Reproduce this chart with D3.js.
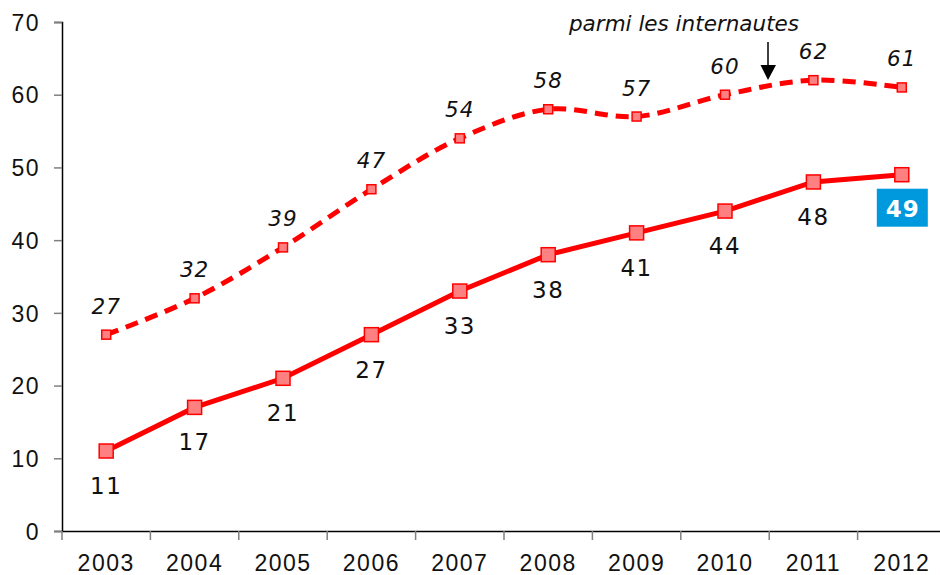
<!DOCTYPE html>
<html>
<head>
<meta charset="utf-8">
<script src="https://cdn.jsdelivr.net/npm/d3@7"></script>
<style>
  html, body { margin: 0; padding: 0; background: #fff; }
  svg { display: block; font-family: "DejaVu Sans", Verdana, sans-serif; }
</style>
</head>
<body>
<svg id="chart" width="940" height="575"></svg>
<script>
// Years shown on the x axis
const years = ["2003", "2004", "2005", "2006", "2007", "2008", "2009", "2010", "2011", "2012"];
// Whole population (solid line)
const overall = [11, 17, 21, 27, 33, 38, 41, 44, 48, 49];
// Internet users only (dashed line)
const internetUsers = [27, 32, 39, 47, 54, 58, 57, 60, 62, 61];
const yTicks = [0, 10, 20, 30, 40, 50, 60, 70];
const noteText = "parmi les internautes";

(function draw() {
const svg = d3.select("#chart");
const plotLeft = 62, plotRight = 946, plotTop = 22, plotBottom = 531;

const x = d3.scaleBand().domain(years).range([plotLeft, plotRight]).padding(0);
const y = d3.scaleLinear().domain([0, 70]).range([plotBottom, plotTop]);
const cx = d => x(d) + x.bandwidth() / 2;

// Y axis
const yAxis = svg.append("g")
  .attr("transform", `translate(${plotLeft},0)`)
  .call(d3.axisLeft(y).tickValues(yTicks).tickSize(8).tickPadding(14));
yAxis.select(".domain").attr("stroke", "#000").attr("stroke-width", 1.5);
yAxis.selectAll(".tick line").attr("stroke", "#808080").attr("stroke-width", 1.5);
yAxis.selectAll(".tick text")
  .attr("font-size", 23).attr("fill", "#111").attr("letter-spacing", 1.5)
  .attr("dy", "0.36em");

// X axis: ticks at band boundaries
const xAxis = svg.append("g")
  .attr("transform", `translate(0,${plotBottom})`)
  .call(d3.axisBottom(x).tickSize(0).tickPadding(0));
xAxis.select(".domain").attr("stroke", "#000").attr("stroke-width", 1.5);
xAxis.selectAll(".tick text")
  .attr("font-size", 23).attr("fill", "#111").attr("letter-spacing", 1.5)
  .attr("y", 40).attr("dy", 0);
svg.append("g").selectAll("line")
  .data(years)
  .join("line")
  .attr("x1", d => x(d)).attr("x2", d => x(d))
  .attr("y1", plotBottom).attr("y2", plotBottom + 9)
  .attr("stroke", "#808080").attr("stroke-width", 1.5);

// Dashed series (smoothed)
const dashedLine = d3.line()
  .x((d, i) => cx(years[i]))
  .y(d => y(d))
  .curve(d3.curveCatmullRom.alpha(0.5));
svg.append("path")
  .datum(internetUsers)
  .attr("d", dashedLine)
  .attr("fill", "none")
  .attr("stroke", "#ff0000")
  .attr("stroke-width", 5)
  .attr("stroke-dasharray", "13,8");
svg.append("g").selectAll("rect")
  .data(internetUsers)
  .join("rect")
  .attr("x", (d, i) => cx(years[i]) - 4.5)
  .attr("y", d => y(d) - 4.5)
  .attr("width", 9).attr("height", 9)
  .attr("fill", "#ff8080").attr("stroke", "#ff0000").attr("stroke-width", 1.5);
svg.append("g").selectAll("text")
  .data(internetUsers)
  .join("text")
  .attr("x", (d, i) => cx(years[i]))
  .attr("y", d => y(d) - 21)
  .attr("text-anchor", "middle")
  .attr("font-size", 21.5)
  .attr("font-style", "italic")
  .attr("letter-spacing", 1)
  .attr("fill", "#111")
  .text(d => d);

// Solid series
const solidLine = d3.line()
  .x((d, i) => cx(years[i]))
  .y(d => y(d));
svg.append("path")
  .datum(overall)
  .attr("d", solidLine)
  .attr("fill", "none")
  .attr("stroke", "#ff0000")
  .attr("stroke-width", 5);
svg.append("g").selectAll("rect")
  .data(overall)
  .join("rect")
  .attr("x", (d, i) => cx(years[i]) - 7)
  .attr("y", d => y(d) - 7)
  .attr("width", 14).attr("height", 14)
  .attr("fill", "#ff8080").attr("stroke", "#ff0000").attr("stroke-width", 1.5);

const last = overall.length - 1;
svg.append("g").selectAll("text")
  .data(overall.slice(0, last))
  .join("text")
  .attr("x", (d, i) => cx(years[i]))
  .attr("y", d => y(d) + 43)
  .attr("text-anchor", "middle")
  .attr("font-size", 23)
  .attr("letter-spacing", 1.5)
  .attr("fill", "#111")
  .text(d => d);

// Highlighted latest value
const lx = cx(years[last]), ly = y(overall[last]);
svg.append("rect")
  .attr("x", lx - 25).attr("y", ly + 14)
  .attr("width", 51).attr("height", 38)
  .attr("fill", "#0099dd");
svg.append("text")
  .attr("x", lx + 1).attr("y", ly + 42)
  .attr("text-anchor", "middle")
  .attr("font-size", 23)
  .attr("font-weight", "bold")
  .attr("letter-spacing", 1)
  .attr("fill", "#fff")
  .text(overall[last]);

// Annotation with arrow
svg.append("text")
  .attr("x", 684).attr("y", 31)
  .attr("text-anchor", "middle")
  .attr("font-size", 21.5)
  .attr("font-style", "italic")
  .attr("fill", "#111")
  .text(noteText);
svg.append("line")
  .attr("x1", 768).attr("x2", 768)
  .attr("y1", 42).attr("y2", 67)
  .attr("stroke", "#000").attr("stroke-width", 1.5);
svg.append("path")
  .attr("d", "M760.5,65 L776,65 L768,80 Z")
  .attr("fill", "#000");
})();
</script>
</body>
</html>
